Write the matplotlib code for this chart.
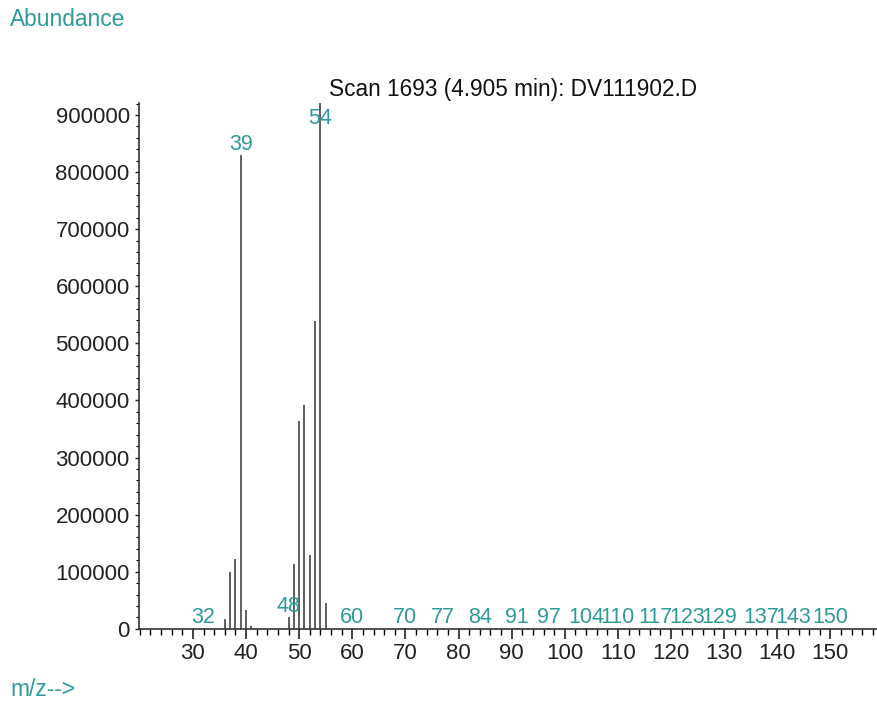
import matplotlib.pyplot as plt
from matplotlib.ticker import MultipleLocator

plt.rcParams['font.family'] = ['Liberation Sans', 'DejaVu Sans']

# m/z and abundance of the peaks
mz = [32, 36, 37, 38, 39, 40, 41, 48, 49, 50, 51, 52, 53, 54, 55,
      60, 70, 77, 84, 91, 97, 104, 110, 117, 123, 129, 137, 143, 150]
abundance = [1500, 17500, 100300, 122600, 830000, 33000, 5800, 20500, 113000,
             364700, 392000, 129600, 539000, 921000, 45000,
             1500, 1200, 1200, 1200, 1200, 1200, 1200, 1200, 1200, 1200,
             1200, 1200, 1200, 1200]
labelled = [32, 39, 48, 54, 60, 70, 77, 84, 91, 97, 104, 110, 117, 123,
            129, 137, 143, 150]

title = 'Scan 1693 (4.905 min): DV111902.D'
teal = '#2e9a9a'

fig = plt.figure(figsize=(8.78, 7.05), dpi=100)
ax = fig.add_axes([0.158, 0.108, 0.841, 0.746])

ax.vlines(mz, 0, abundance, colors='#333333', linewidth=1.1)

ymax = max(abundance)
ax.set_xlim(19.8, 158.8)
ax.set_ylim(0, ymax)

for m, a in zip(mz, abundance):
    if m in labelled:
        y = min(a, ymax * 0.95)
        ax.annotate(str(m), (m, y), xytext=(0, 0), textcoords='offset points',
                    ha='center', va='bottom', color=teal, fontsize=15.5)

ax.text(90.2, ymax * 1.003, title, ha='center', va='bottom',
        fontsize=16.3, color='#111111')

ax.set_xticks(range(30, 160, 10))
ax.xaxis.set_minor_locator(MultipleLocator(2))
ax.set_yticks(range(0, 900001, 100000))
ax.yaxis.set_minor_locator(MultipleLocator(20000))
ax.tick_params(axis='both', labelsize=16, colors='#222222')
ax.tick_params(axis='x', which='major', length=7, width=1.2, direction='out')
ax.tick_params(axis='x', which='minor', length=4, width=1.0, direction='out')
ax.tick_params(axis='y', which='major', length=3, width=1.0, direction='out')
ax.tick_params(axis='y', which='minor', length=2, width=0.8, direction='out')

for s in ['top', 'right']:
    ax.spines[s].set_visible(False)
for s in ['left', 'bottom']:
    ax.spines[s].set_color('#333333')
    ax.spines[s].set_linewidth(1.2)

fig.text(10 / 878, 1 - 20 / 705, 'Abundance', color=teal, fontsize=16.4,
         ha='left', va='center')
fig.text(10 / 878, 1 - 690 / 705, 'm/z-->', color=teal, fontsize=16.4,
         ha='left', va='center')

fig.savefig('out.png', dpi=100)
